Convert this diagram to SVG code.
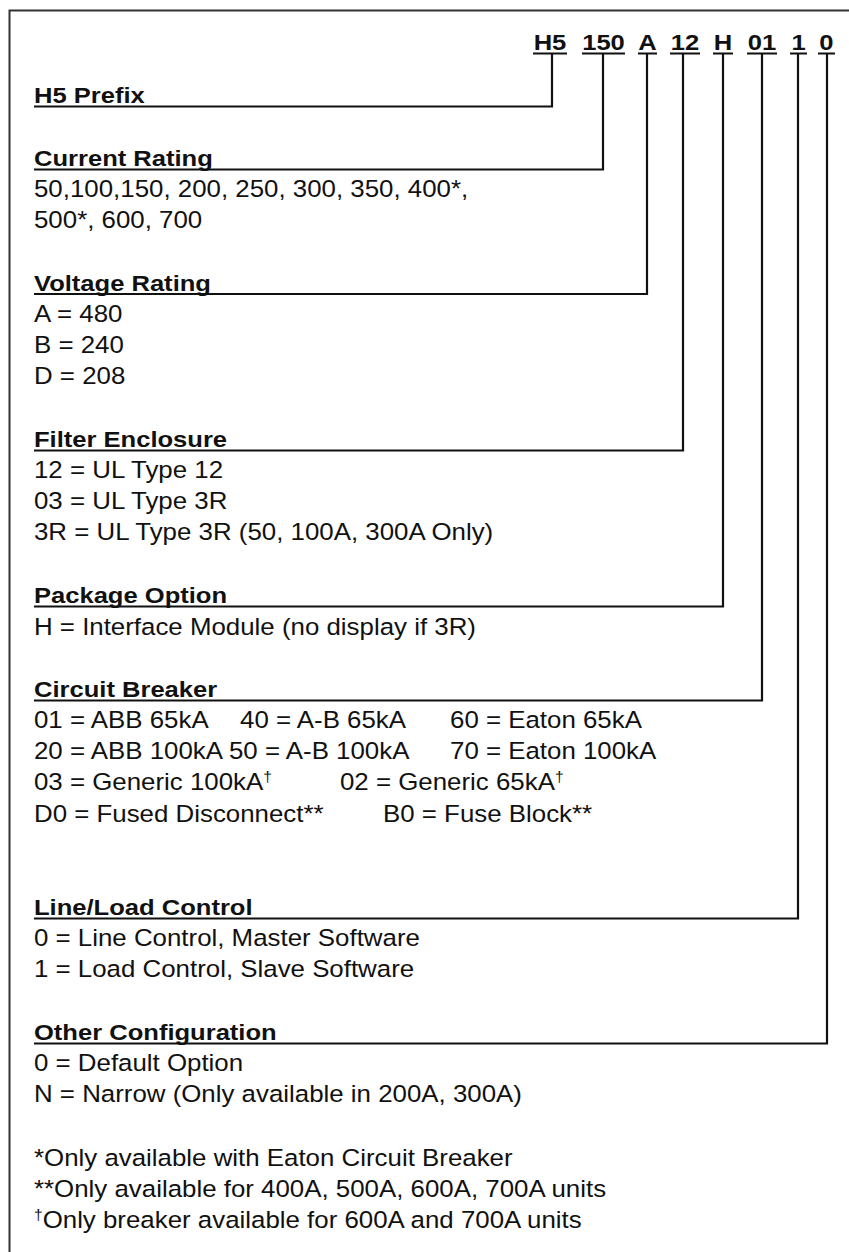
<svg xmlns="http://www.w3.org/2000/svg" width="849" height="1252" viewBox="0 0 849 1252">
<style>
text{font-family:"Liberation Sans",Arial,sans-serif;fill:#111}
.h{font-size:21.3px;font-weight:bold;transform:scale(1.2,1);transform-origin:0 0}
.c{font-size:21.3px;font-weight:bold;text-anchor:middle;transform:scale(1.2,1);transform-origin:0 0}
.b{font-size:23.3px;transform:scale(1.11,1);transform-origin:0 0}
.sup{font-size:14px}
.ln{stroke:#111;stroke-width:2.2;fill:none}
.frame{stroke:#333;stroke-width:2;fill:none}
</style>
<rect width="849" height="1252" fill="#fff"/>
<path class="frame" d="M9.5 1252V10.5H849"/>
<g id="code">
<text class="c" x="458.33" y="50">H5</text>
<text class="c" x="502.92" y="50">150</text>
<text class="c" x="539.58" y="50">A</text>
<text class="c" x="570.83" y="50">12</text>
<text class="c" x="602.5" y="50">H</text>
<text class="c" x="635" y="50">01</text>
<text class="c" x="665.42" y="50">1</text>
<text class="c" x="688.75" y="50">0</text>
<path class="ln" d="M533 53.5H567M582 53.5H625M638 53.5H657M670 53.5H700M713 53.5H733M747 53.5H777M790 53.5H807M818 53.5H835"/>
</g>
<g id="connectors">
<path class="ln" d="M552 53.5V106.5H34"/>
<path class="ln" d="M603 53.5V169.5H34"/>
<path class="ln" d="M647 53.5V294H34"/>
<path class="ln" d="M683 53.5V450.5H34"/>
<path class="ln" d="M723 53.5V606.5H34"/>
<path class="ln" d="M762 53.5V700.5H34"/>
<path class="ln" d="M798 53.5V918.5H34"/>
<path class="ln" d="M827 53.5V1043.5H34"/>
</g>
<g id="prefix">
<text class="h" x="28.33" y="103">H5 Prefix</text>
</g>
<g id="current">
<text class="h" x="28.33" y="166">Current Rating</text>
<text class="b" x="30.63" y="197.5">50,100,150, 200, 250, 300, 350, 400*,</text>
<text class="b" x="30.63" y="228.5">500*, 600, 700</text>
</g>
<g id="voltage">
<text class="h" x="28.33" y="291">Voltage Rating</text>
<text class="b" x="30.63" y="322.5">A = 480</text>
<text class="b" x="30.63" y="353.5">B = 240</text>
<text class="b" x="30.63" y="384.5">D = 208</text>
</g>
<g id="filter">
<text class="h" x="28.33" y="447">Filter Enclosure</text>
<text class="b" x="30.63" y="478">12 = UL Type 12</text>
<text class="b" x="30.63" y="509">03 = UL Type 3R</text>
<text class="b" x="30.63" y="540">3R = UL Type 3R (50, 100A, 300A Only)</text>
</g>
<g id="package">
<text class="h" x="28.33" y="603">Package Option</text>
<text class="b" x="30.63" y="635">H = Interface Module (no display if 3R)</text>
</g>
<g id="breaker">
<text class="h" x="28.33" y="697">Circuit Breaker</text>
<text class="b" x="30.63" y="728.5">01 = ABB 65kA</text>
<text class="b" x="216.22" y="728.5">40 = A-B 65kA</text>
<text class="b" x="405.41" y="728.5">60 = Eaton 65kA</text>
<text class="b" x="30.63" y="759.5">20 = ABB 100kA</text>
<text class="b" x="206.3" y="759.5">50 = A-B 100kA</text>
<text class="b" x="405.41" y="759.5">70 = Eaton 100kA</text>
<text class="b" x="30.63" y="790.5">03 = Generic 100kA<tspan class="sup" dy="-8">†</tspan></text>
<text class="b" x="306.3" y="790.5">02 = Generic 65kA<tspan class="sup" dy="-8">†</tspan></text>
<text class="b" x="30.63" y="822">D0 = Fused Disconnect**</text>
<text class="b" x="345.05" y="822">B0 = Fuse Block**</text>
</g>
<g id="lineload">
<text class="h" x="28.33" y="915">Line/Load Control</text>
<text class="b" x="30.63" y="946.5">0 = Line Control, Master Software</text>
<text class="b" x="30.63" y="977.5">1 = Load Control, Slave Software</text>
</g>
<g id="other">
<text class="h" x="28.33" y="1040">Other Configuration</text>
<text class="b" x="30.63" y="1071">0 = Default Option</text>
<text class="b" x="30.63" y="1102">N = Narrow (Only available in 200A, 300A)</text>
</g>
<g id="notes">
<text class="b" x="30.63" y="1166">*Only available with Eaton Circuit Breaker</text>
<text class="b" x="30.63" y="1197">**Only available for 400A, 500A, 600A, 700A units</text>
<text class="b" x="30.63" y="1228"><tspan class="sup" dy="-8">†</tspan><tspan dy="8">Only breaker available for 600A and 700A units</tspan></text>
</g>
</svg>
